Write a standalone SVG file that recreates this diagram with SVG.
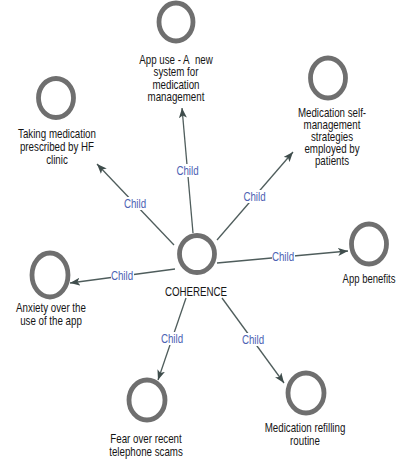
<svg xmlns="http://www.w3.org/2000/svg" width="398" height="472" viewBox="0 0 398 472">
<style>
.bg{fill:#ffffff}
.node ellipse{fill:none;stroke:#6f6f6f;stroke-width:4.8}
.lbl{font-family:"Liberation Sans",Arial,sans-serif;font-size:12.5px;fill:#151515;text-anchor:middle}
.edge{stroke:#4f5d5c;stroke-width:1.3;fill:none;marker-end:url(#arr)}
.child{font-family:"Liberation Sans",Arial,sans-serif;font-size:12.5px;fill:#4d62b3;text-anchor:middle}
.gap{fill:#ffffff}
</style>
<defs>
<marker id="arr" viewBox="0 0 10 8" refX="10" refY="4" markerWidth="10" markerHeight="8" markerUnits="userSpaceOnUse" orient="auto">
<path d="M0,0 L10,4 L0,8 L2.5,4 Z" fill="#3f4d4c"/>
</marker>
</defs>
<rect class="bg" x="0" y="0" width="398" height="472"/>
<g id="connectors">
<line class="edge" x1="193" y1="233" x2="182" y2="108"/>
<line class="edge" x1="174" y1="245" x2="97" y2="164"/>
<line class="edge" x1="217" y1="240" x2="293" y2="152"/>
<line class="edge" x1="217" y1="263" x2="348" y2="251"/>
<line class="edge" x1="175" y1="269" x2="70" y2="283"/>
<line class="edge" x1="186" y1="298" x2="158" y2="380"/>
<line class="edge" x1="222" y1="298" x2="284" y2="383"/>
<rect class="gap" x="176" y="164" width="23" height="13"/>
<text class="child" transform="translate(187.5,175) scale(0.78,1)">Child</text>
<rect class="gap" x="124" y="197" width="23" height="13"/>
<text class="child" transform="translate(135,208) scale(0.78,1)">Child</text>
<rect class="gap" x="243" y="190" width="23" height="13"/>
<text class="child" transform="translate(254.5,201) scale(0.78,1)">Child</text>
<rect class="gap" x="272" y="250" width="23" height="13"/>
<text class="child" transform="translate(283,261) scale(0.78,1)">Child</text>
<rect class="gap" x="111" y="269" width="23" height="13"/>
<text class="child" transform="translate(122,280) scale(0.78,1)">Child</text>
<rect class="gap" x="161" y="332" width="23" height="13"/>
<text class="child" transform="translate(172,343) scale(0.78,1)">Child</text>
<rect class="gap" x="242" y="333" width="23" height="13"/>
<text class="child" transform="translate(253,344) scale(0.78,1)">Child</text>
</g>
<g id="node-coherence" class="node">
<ellipse cx="197" cy="254" rx="17.5" ry="18.5"/>
<text class="lbl" transform="translate(196,296) scale(0.78,1)">COHERENCE</text>
</g>
<g id="node-app-use" class="node">
<ellipse cx="176" cy="22" rx="17" ry="19"/>
<text class="lbl" transform="translate(176,64) scale(0.78,1)"><tspan x="0">App use - A&#160; new</tspan><tspan x="0" dy="12.5">system for</tspan><tspan x="0" dy="12.5">medication</tspan><tspan x="0" dy="12.5">management</tspan></text>
</g>
<g id="node-taking-medication" class="node">
<ellipse cx="56" cy="98" rx="17.5" ry="19.5"/>
<text class="lbl" transform="translate(57,138) scale(0.78,1)"><tspan x="0">Taking medication</tspan><tspan x="0" dy="13">prescribed by HF</tspan><tspan x="0" dy="13">clinic</tspan></text>
</g>
<g id="node-self-management" class="node">
<ellipse cx="328" cy="78" rx="17.5" ry="20"/>
<text class="lbl" transform="translate(332,117) scale(0.78,1)"><tspan x="0">Medication self-</tspan><tspan x="0" dy="12">management</tspan><tspan x="0" dy="12">strategies</tspan><tspan x="0" dy="12">employed by</tspan><tspan x="0" dy="12">patients</tspan></text>
</g>
<g id="node-app-benefits" class="node">
<ellipse cx="369" cy="244" rx="17.5" ry="20"/>
<text class="lbl" transform="translate(369,283) scale(0.76,1)">App benefits</text>
</g>
<g id="node-anxiety" class="node">
<ellipse cx="50" cy="275" rx="18" ry="22"/>
<text class="lbl" transform="translate(51,312) scale(0.78,1)"><tspan x="0">Anxiety over the</tspan><tspan x="0" dy="13">use of the app</tspan></text>
</g>
<g id="node-fear" class="node">
<ellipse cx="147" cy="400" rx="18" ry="20"/>
<text class="lbl" transform="translate(146,443) scale(0.78,1)"><tspan x="0">Fear over recent</tspan><tspan x="0" dy="13">telephone scams</tspan></text>
</g>
<g id="node-refilling" class="node">
<ellipse cx="306" cy="393" rx="18" ry="20"/>
<text class="lbl" transform="translate(305,432) scale(0.78,1)"><tspan x="0">Medication refilling</tspan><tspan x="0" dy="13">routine</tspan></text>
</g>
</svg>
